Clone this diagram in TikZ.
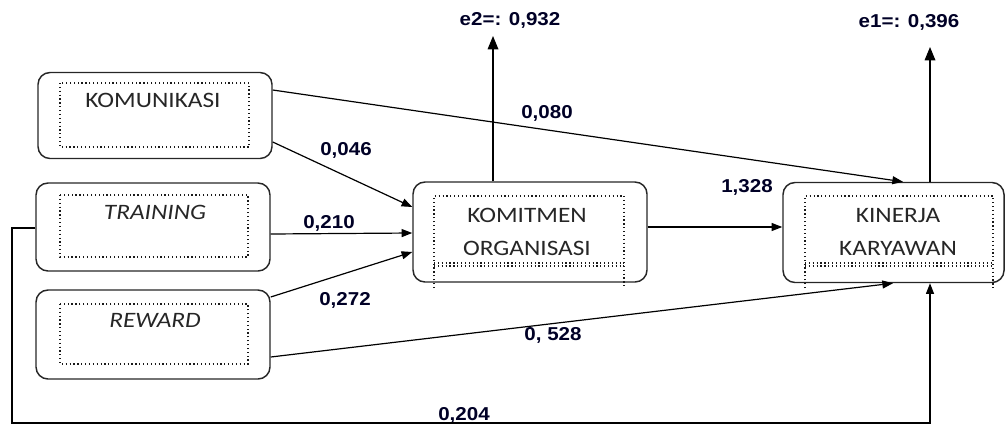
\documentclass[tikz,border=0pt]{standalone}
\usepackage{fontspec}
\setmainfont{Liberation Sans}
\newfontfamily\boxfont[FakeStretch=1.15]{Carlito}
\newfontfamily\labfont[FakeStretch=1.1]{Liberation Sans}
\usetikzlibrary{arrows.meta}
\begin{document}
\begin{tikzpicture}[x=0.75pt,y=-0.75pt,
  box/.style={draw=black!85, line width=1.1pt, rounded corners=9pt, inner sep=0pt},
  inbox/.style={draw=black!90, dotted, line width=0.9pt},
  conn/.style={line width=0.9pt, -{Triangle[length=8pt,width=6pt]}},
  bigconn/.style={line width=0.9pt, -{Triangle[length=10pt,width=8pt]}},
  lab/.style={font=\labfont\bfseries\fontsize{14}{16}\selectfont, inner sep=0pt, text=black!85!blue},
  btxt/.style={font=\boxfont\fontsize{16.5}{24.75}\selectfont, align=center, inner sep=0pt, text=black!85}]
\useasboundingbox (0,0) rectangle (1005,425);

% boxes
\node[box, minimum width=175.5pt, minimum height=64.5pt] (komu) at (155,115.5) {};
\node[box, minimum width=175.5pt, minimum height=66pt] (train) at (153,227) {};
\node[box, minimum width=175.5pt, minimum height=66.75pt] (rew) at (153,334.5) {};
\node[box, minimum width=175.5pt, minimum height=75pt] (kom) at (530,232) {};
\node[box, minimum width=165.75pt, minimum height=75pt] (kin) at (893.5,232.5) {};

% inner dotted frames
\draw[inbox] (60,83) rectangle (249,147);
\draw[inbox] (60,195) rectangle (248,257);
\draw[inbox] (60,304) rectangle (248,364);
\draw[inbox] (434,288) -- (434,196) -- (624,196) -- (624,288);
\draw[inbox] (434,263) -- (624,263);
\draw[inbox] (434,266) -- (624,266);
\draw[inbox] (805,288) -- (805,196) -- (993,196) -- (993,288);
\draw[inbox] (805,263) -- (993,263);
\draw[inbox] (805,266) -- (993,266);

% box texts
\node[btxt] (tkomu) at (153,100) {KOMUNIKASI};
\node[btxt] (ttrain) at (155,212) {\itshape TRAINING};
\node[btxt] (trew) at (155,320) {\itshape REWARD};
\node[btxt] (tkom) at (527,231.5) {KOMITMEN\\ORGANISASI};
\node[btxt] (tkin) at (898,231.5) {KINERJA\\KARYAWAN};

% error terms
\coordinate (e2) at (493,36);
\coordinate (e1) at (930,47);
\node[lab] (le2) at (510,20) {e2=: 0,932};
\node[lab] (le1) at (909,22) {e1=: 0,396};
\draw[bigconn] (kom.north -| 493,0) -- (e2);
\draw[bigconn] (kin.north -| 930,0) -- (e1);

% connectors
\draw[conn] (komu.east |- 0,90) -- (kin.north -| 903,0);
\draw[conn] (komu.east |- 0,142) -- (kom.west |- 0,207);
\draw[conn] (train.east |- 0,234) -- (kom.west |- 0,233);
\draw[conn] (rew.east |- 0,297) -- (kom.west |- 0,252);
\draw[conn] (rew.east |- 0,357) -- (kin.south -| 893,0);
\draw[conn] (kom.east |- 0,227) -- (kin.west |- 0,227);

% path labels
\node[lab] (l046) at (346,150) {0,046};
\node[lab] (l210) at (329,223) {0,210};
\node[lab] (l272) at (345,300) {0,272};
\node[lab] (l080) at (547,113) {0,080};
\node[lab] (l528) at (553,335) {0, 528};
\node[lab] (l328) at (747,187) {1,328};
\node[lab, anchor=base] (l204) at (464,420) {0,204};

% bottom path
\coordinate (cb) at (12,423);
\draw[conn] (train.west |- 0,228) -| (cb) -| (kin.south -| 930,0);
\end{tikzpicture}
\end{document}
